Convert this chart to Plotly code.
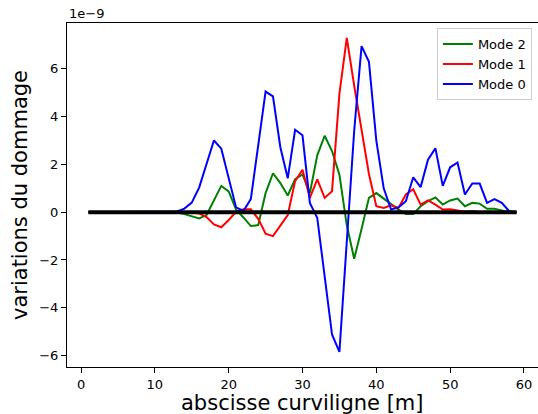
import plotly.graph_objects as go

abscisse = [1, 2, 3, 4, 5, 6, 7, 8, 9, 10, 11, 12, 13, 14, 15, 16, 17, 18, 19, 20,
            21, 22, 23, 24, 25, 26, 27, 28, 29, 30, 31, 32, 33, 34, 35, 36, 37, 38, 39, 40,
            41, 42, 43, 44, 45, 46, 47, 48, 49, 50, 51, 52, 53, 54, 55, 56, 57, 58, 59]

# values in units of 1e-9
mode2 = [0, 0, 0, 0, 0, 0, 0, 0, 0, 0, 0, 0, 0.0, -0.08, -0.17, -0.26, -0.12, 0.46, 1.1, 0.87,
         0.11, -0.22, -0.58, -0.54, 0.8, 1.63, 1.22, 0.7, 1.38, 1.58, 0.8, 2.38, 3.2, 2.56, 1.57, -0.55, -1.95, -0.7, 0.6, 0.8,
         0.57, 0.32, 0.11, -0.08, -0.08, 0.25, 0.46, 0.62, 0.32, 0.49, 0.57, 0.25, 0.39, 0.36, 0.14, 0.14, 0.08, 0.0, 0]

mode1 = [0, 0, 0, 0, 0, 0, 0, 0, 0, 0, 0, 0, 0, 0, 0, -0.05, -0.2, -0.51, -0.63, -0.33,
         0.02, 0.12, 0.12, -0.28, -0.9, -1.0, -0.55, -0.12, 1.3, 1.78, 0.6, 1.37, 0.6, 0.88, 4.95, 7.3, 5.3, 3.5, 1.6, 0.25,
         0.18, 0.29, 0.18, 0.74, 0.96, 0.32, 0.49, 0.32, 0.11, 0.12, 0.08, 0.02, 0.05, 0.0, 0.02, 0, 0, 0, 0]

mode0 = [0, 0, 0, 0, 0, 0, 0, 0, 0, 0, 0, 0, 0.03, 0.15, 0.4, 1.03, 2.02, 3.0, 2.66, 1.43,
         0.2, 0.05, 0.55, 2.8, 5.05, 4.85, 2.72, 1.42, 3.45, 3.22, 0.39, -0.24, -2.7, -5.12, -5.85, -1.0, 3.4, 6.95, 6.3, 3.0,
         1.0, 0.11, 0.2, 0.46, 1.46, 1.05, 2.2, 2.68, 1.1, 1.88, 2.08, 0.74, 1.2, 1.2, 0.39, 0.55, 0.39, 0.04, 0]

reference = [0] * len(abscisse)

series_names = ["Mode 2", "Mode 1", "Mode 0"]
series_colors = ["#008000", "#ff0000", "#0000ff"]
x_ticks = [0, 10, 20, 30, 40, 50, 60]
y_ticks = [-6, -4, -2, 0, 2, 4, 6, 8]

FONT = "DejaVu Sans"

fig = go.Figure()
for name, vals, col in zip(series_names, [mode2, mode1, mode0], series_colors):
    fig.add_trace(go.Scatter(x=abscisse, y=vals, mode="lines", name=name,
                             line=dict(color=col, width=2)))
fig.add_trace(go.Scatter(x=abscisse, y=reference, mode="lines", showlegend=False,
                         line=dict(color="black", width=4)))

axis_common = dict(showgrid=False, zeroline=False, showline=True, linecolor="black",
                   linewidth=1, mirror=True, ticks="outside", ticklen=5, tickcolor="black",
                   tickfont=dict(family=FONT, size=13, color="black"))

fig.update_layout(
    width=538, height=414,
    margin=dict(l=67, r=0, t=23, b=47),
    paper_bgcolor="white", plot_bgcolor="white",
    font=dict(family=FONT, color="black"),
    xaxis=dict(range=[-1.9, 61.9], tickvals=x_ticks, **axis_common),
    yaxis=dict(range=[-6.48, 7.92], tickvals=y_ticks, **axis_common),
    legend=dict(x=0.987, y=0.985, xanchor="right", yanchor="top",
                bgcolor="rgba(255,255,255,0.8)", bordercolor="#cccccc", borderwidth=1,
                font=dict(family=FONT, size=13, color="black"), tracegroupgap=0),
    annotations=[
        dict(text="abscisse curviligne [m]", x=0.5, y=0, xref="paper", yref="paper",
             xanchor="center", yanchor="middle", yshift=-36, showarrow=False,
             font=dict(family=FONT, size=21, color="black")),
        dict(text="variations du dommage", x=0, y=0.5, xref="paper", yref="paper",
             xanchor="center", yanchor="middle", xshift=-47, textangle=-90, showarrow=False,
             font=dict(family=FONT, size=21, color="black")),
        dict(text="1e\u22129", x=0, y=1, xref="paper", yref="paper",
             xanchor="left", yanchor="middle", xshift=0, yshift=10, showarrow=False,
             font=dict(family=FONT, size=13, color="black")),
    ],
)

fig.write_html("out.html", config={"displayModeBar": False},
               post_script="document.body.style.margin='0';document.body.style.overflow='hidden';")
